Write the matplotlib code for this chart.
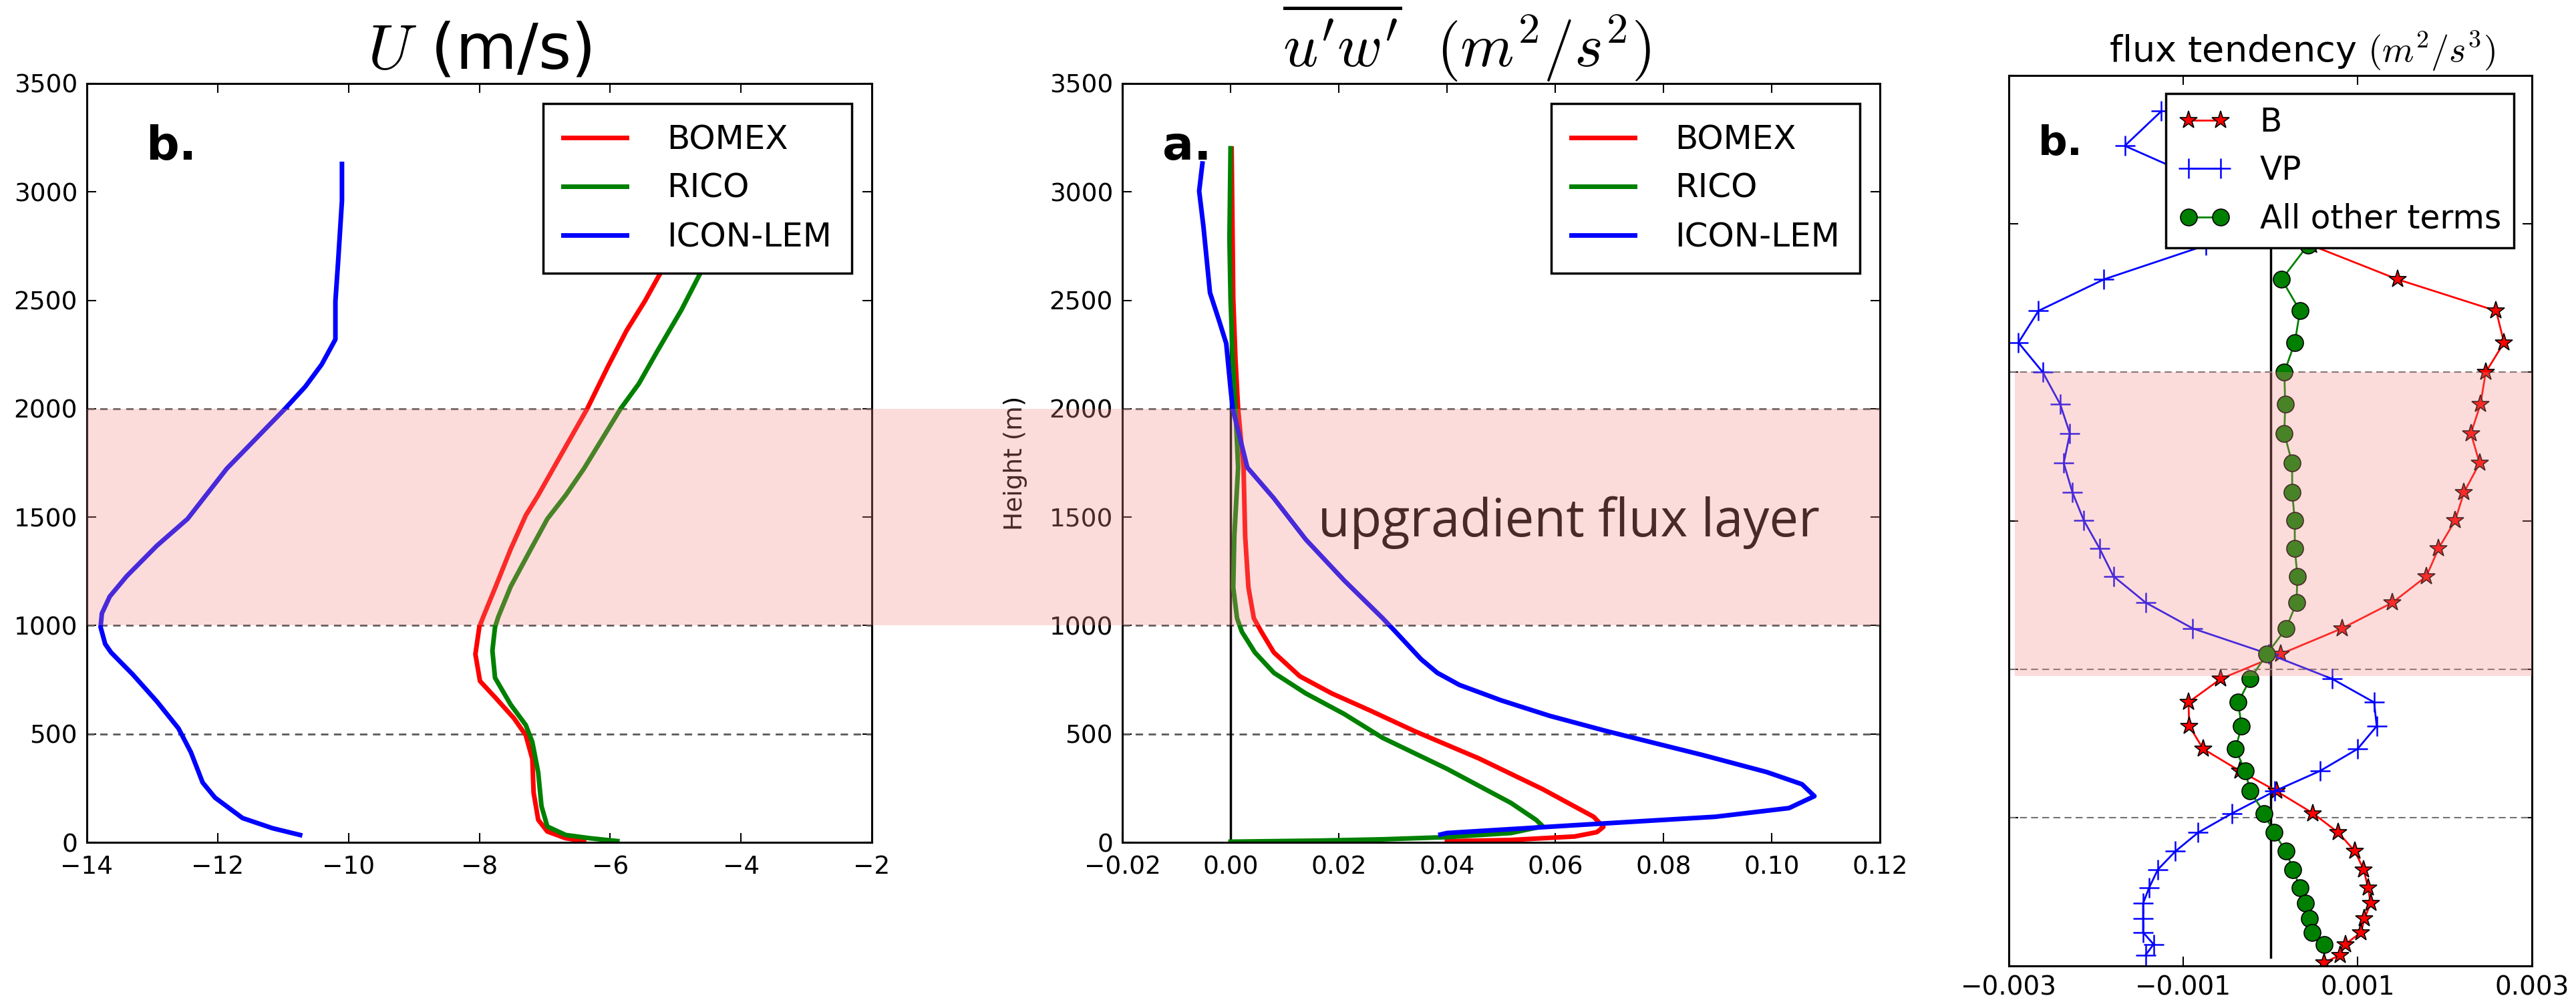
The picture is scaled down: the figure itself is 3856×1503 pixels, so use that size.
import matplotlib
matplotlib.use("Agg")
import matplotlib.pyplot as plt
import numpy as np
from matplotlib import transforms
from matplotlib.patches import Rectangle

# ---------------- mean zonal wind U (m/s) ----------------
u_icon_z = [34, 65, 112, 206, 276, 416, 526, 650, 775, 876, 915, 993, 1056, 1134,
            1228, 1368, 1492, 1724, 2000, 2102, 2204, 2320, 2496, 2673, 2959, 3129]
u_icon = [-10.74, -11.16, -11.62, -12.04, -12.23, -12.41, -12.60, -12.93, -13.30,
          -13.63, -13.72, -13.79, -13.77, -13.65, -13.39, -12.93, -12.46, -11.86,
          -10.97, -10.66, -10.41, -10.20, -10.20, -10.16, -10.10, -10.10]

u_bomex_z = [6, 19, 50, 104, 229, 385, 494, 572, 666, 744, 868, 993, 1040, 1180,
             1353, 1508, 1601, 1724, 2000, 2197, 2360, 2496, 2632, 3000]
u_bomex = [-6.40, -6.68, -6.96, -7.10, -7.17, -7.19, -7.29, -7.47, -7.75, -7.99,
           -8.06, -8.00, -7.94, -7.75, -7.52, -7.29, -7.10, -6.87, -6.35, -6.03,
           -5.75, -5.47, -5.22, -4.60]

u_rico_z = [6, 19, 34, 73, 167, 323, 463, 541, 635, 759, 884, 993, 1040, 1180,
            1337, 1492, 1601, 1724, 2000, 2116, 2265, 2456, 2632, 3000]
u_rico = [-5.89, -6.31, -6.68, -6.96, -7.05, -7.10, -7.19, -7.29, -7.52, -7.76,
          -7.80, -7.76, -7.71, -7.52, -7.24, -6.96, -6.68, -6.40, -5.84, -5.56,
          -5.28, -4.91, -4.61, -4.00]

# ---------------- momentum flux u'w' (m2/s2) ----------------
uw_icon_z = [36, 43, 79, 118, 158, 213, 268, 324, 403, 513, 584, 655, 726, 782,
             845, 971, 1034, 1208, 1397, 1587, 1729, 2000, 2094, 2301, 2397, 2535,
             2838, 3004, 3131]
uw_icon = [0.0388, 0.0400, 0.0636, 0.0896, 0.1032, 0.1079, 0.1056, 0.0991, 0.0872,
           0.0695, 0.0589, 0.0500, 0.0423, 0.0382, 0.0352, 0.0305, 0.0281, 0.0210,
           0.0139, 0.0080, 0.0031, 0.0004, 0.0000, -0.0008, -0.0020, -0.0038,
           -0.0050, -0.0058, -0.0052]

uw_bomex_z = [5, 11, 27, 47, 71, 118, 245, 387, 513, 608, 687, 766, 876, 971, 1034,
              1176, 1413, 1729, 2000, 2232, 2507, 3200]
uw_bomex = [0.0400, 0.0518, 0.0636, 0.0677, 0.0689, 0.0671, 0.0577, 0.0459, 0.0340,
            0.0258, 0.0187, 0.0128, 0.0080, 0.0057, 0.0043, 0.0033, 0.0027, 0.0024,
            0.0014, 0.0009, 0.0005, 0.0002]

uw_rico_z = [3, 8, 14, 24, 43, 74, 103, 182, 339, 482, 592, 687, 782, 876, 971,
             1034, 1176, 1413, 1729, 2000, 2232, 2507, 2783, 3201]
uw_rico = [0.0, 0.0163, 0.0281, 0.0400, 0.0518, 0.0577, 0.0565, 0.0518, 0.0400,
           0.0281, 0.0210, 0.0139, 0.0080, 0.0045, 0.0021, 0.0012, 0.0005, 0.0007,
           0.0014, 0.0009, 0.0004, 0.0, -0.0002, 0.0]

# ---------------- flux tendency budget (m2/s3) ----------------
tend_z = [2880, 2763, 2650, 2540, 2428, 2313, 2207, 2100, 2000, 1892, 1794, 1694,
          1595, 1501, 1407, 1313, 1224, 1137, 1051, 967, 888, 808, 731, 657, 589,
          514, 449, 386, 325, 264, 211, 160, 113, 73, 37, 11]
tend_b = [0.0003, 0.0004, 0.0004, 0.0004, 0.00047, 0.00146, 0.00259, 0.00268,
          0.00247, 0.00241, 0.00230, 0.00240, 0.00222, 0.00212, 0.00193, 0.00179,
          0.00140, 0.00082, 0.00012, -0.00057, -0.00094, -0.00093, -0.00077,
          -0.00035, 0.00007, 0.00049, 0.00078, 0.00097, 0.00107, 0.00112, 0.00115,
          0.00108, 0.00104, 0.00086, 0.00080, 0.00062]
tend_vp = [-0.00125, -0.00167, -0.0008, -0.0006, -0.00074, -0.00191, -0.00266,
           -0.00289, -0.00261, -0.00241, -0.00230, -0.00237, -0.00227, -0.00214,
           -0.00196, -0.00180, -0.00143, -0.00089, -0.00002, 0.00071, 0.00119,
           0.00122, 0.00100, 0.00057, 0.00005, -0.00044, -0.00083, -0.00109,
           -0.00129, -0.00139, -0.00146, -0.00146, -0.00146, -0.00134, -0.00143,
           np.nan]
tend_other = [0.0003, 0.0003, 0.0003, 0.0003, 0.00043, 0.00013, 0.00034, 0.00028,
              0.00016, 0.00017, 0.00016, 0.00025, 0.00025, 0.00028, 0.00028,
              0.00031, 0.00030, 0.00018, -0.00004, -0.00023, -0.00037, -0.00033,
              -0.00040, -0.00029, -0.00023, -0.00007, 0.00004, 0.00018, 0.00026,
              0.00034, 0.00040, 0.00045, 0.00048, 0.00062, np.nan, np.nan]

case_names = ["BOMEX", "RICO", "ICON-LEM"]
case_colors = ["r", "g", "b"]
ref_levels = [500, 1000, 2000]
layer_bottom, layer_top = 1000, 2000
tend_layer_bottom = 977
tend_xticks = [-0.003, -0.001, 0.001, 0.003]
tend_xticklabels = ["\u22120.003", "\u22120.001", "0.001", "0.003"]

BAND_COLOR = (0.95, 0.55, 0.52)
BAND_ALPHA = 0.3

plt.rcParams["font.family"] = ["DejaVu Sans"]
plt.rcParams["mathtext.fontset"] = "cm"
plt.rcParams["xtick.direction"] = "in"
plt.rcParams["ytick.direction"] = "in"
plt.rcParams["xtick.top"] = True
plt.rcParams["ytick.right"] = True
plt.rcParams["xtick.major.size"] = 10
plt.rcParams["ytick.major.size"] = 10
plt.rcParams["xtick.major.width"] = 1.5
plt.rcParams["ytick.major.width"] = 1.5
plt.rcParams["xtick.major.pad"] = 14
plt.rcParams["ytick.major.pad"] = 10
plt.rcParams["axes.linewidth"] = 2.2
plt.rcParams["legend.fancybox"] = False
plt.rcParams["legend.edgecolor"] = "black"
plt.rcParams["legend.framealpha"] = 1.0

W, H = 3856, 1503
fig = plt.figure(figsize=(W / 100, H / 100), dpi=100)


def px_axes(left, top, width, height):
    return fig.add_axes([left / W, 1 - (top + height) / H, width / W, height / H])


ax1 = px_axes(130, 125, 1175, 1136)
ax2 = px_axes(1680, 125, 1134, 1136)
ax3 = px_axes(3007, 113, 783, 1333)

# ---- U profiles ----
for y in ref_levels:
    ax1.axhline(y, color="0.35", ls="--", lw=2, dashes=(4, 3))
for z, u, name, c in zip([u_bomex_z, u_rico_z, u_icon_z], [u_bomex, u_rico, u_icon],
                         case_names, case_colors):
    ax1.plot(u, z, color=c, lw=5, label=name)
ax1.set_xlim(-14, -2)
ax1.set_ylim(0, 3500)
ax1.set_xticks(np.arange(-14, -1, 2))
ax1.set_yticks(np.arange(0, 3501, 500))
ax1.tick_params(labelsize=27)
ax1.set_title("$U$ (m/s)", fontsize=68, pad=16)
ax1.text(0.075, 0.90, "b.", transform=ax1.transAxes, fontsize=50, fontweight="bold")
leg = ax1.legend(loc="upper right", fontsize=36, handlelength=1.9, borderaxespad=0.6,
                 handletextpad=1.2, borderpad=0.6)
leg.get_frame().set_linewidth(2.5)

# ---- u'w' profiles ----
for y in ref_levels:
    ax2.axhline(y, color="0.35", ls="--", lw=2, dashes=(4, 3))
ax2.plot([0, 0], [0, 3200], color="k", lw=2.5)
for z, f, name, c in zip([uw_bomex_z, uw_rico_z, uw_icon_z], [uw_bomex, uw_rico, uw_icon],
                         case_names, case_colors):
    ax2.plot(f, z, color=c, lw=5, label=name)
ax2.set_xlim(-0.02, 0.12)
ax2.set_ylim(0, 3500)
ax2.set_xticks(np.arange(-0.02, 0.121, 0.02))
ax2.set_yticks(np.arange(0, 3501, 500))
ax2.tick_params(labelsize=27)
ax2.set_title(r"$\overline{u'w'}\ \ (m^2/s^2)$", fontsize=66, pad=8, x=0.455)
ax2.set_ylabel("Height (m)", fontsize=27)
ax2.yaxis.set_label_coords(-0.125, 0.5)
ax2.text(0.053, 0.90, "a.", transform=ax2.transAxes, fontsize=50, fontweight="bold")
ax2.text(0.0625, 1410, "upgradient flux layer", fontsize=56,
         family=["Open Sans", "DejaVu Sans"], ha="center", va="baseline")
leg = ax2.legend(loc="upper right", fontsize=36, handlelength=1.9, borderaxespad=0.6,
                 handletextpad=1.2, borderpad=0.6)
leg.get_frame().set_linewidth(2.5)

# ---- flux tendency budget ----
for y in ref_levels:
    ax3.axhline(y, color="0.45", ls="--", lw=1.5, dashes=(5, 3))
ax3.plot([0, 0], [30, 2900], color="k", lw=2.5, zorder=1.5)
ax3.plot(tend_b, tend_z, "r-", marker="*", ms=20, mfc="r", mec="k", mew=1.2, lw=2,
         label="B")
ax3.plot(tend_vp, tend_z, "b-", marker="+", ms=22, mew=1.8, lw=2, label="VP")
ax3.plot(tend_other, tend_z, "g-", marker="o", ms=18, mfc="g", mec="k", mew=1.2, lw=2,
         label="All other terms")
ax3.axhspan(tend_layer_bottom, layer_top, xmin=0.012, xmax=1, color=BAND_COLOR,
            alpha=BAND_ALPHA, lw=0, zorder=10)
ax3.set_xlim(-0.003, 0.003)
ax3.set_ylim(0, 3000)
ax3.set_xticks(tend_xticks)
ax3.set_xticklabels(tend_xticklabels)
ax3.set_yticks(np.arange(0, 3001, 500))
ax3.set_yticklabels([])
ax3.tick_params(labelsize=28)
ax3.tick_params(axis="x", pad=10)
ax3.set_title("flux tendency $(m^2/s^3)$", fontsize=39, pad=14, x=0.56)
ax3.text(0.056, 0.911, "b.", transform=ax3.transAxes, fontsize=44, fontweight="bold")
leg = ax3.legend(loc="upper right", fontsize=35, numpoints=2, handlelength=1.6,
                 handletextpad=0.9, borderaxespad=0.55, labelspacing=0.5)
leg.get_frame().set_linewidth(2.5)

# shaded upgradient layer spanning the first two panels, drawn over everything
band_trans = transforms.blended_transform_factory(fig.transFigure, ax1.transData)
x0 = ax1.get_position().x0
x1 = ax2.get_position().x1
fig.add_artist(Rectangle((x0, layer_bottom), x1 - x0, layer_top - layer_bottom,
                         transform=band_trans, facecolor=BAND_COLOR, alpha=BAND_ALPHA,
                         lw=0, zorder=10))

fig.savefig("out.png", dpi=100)
